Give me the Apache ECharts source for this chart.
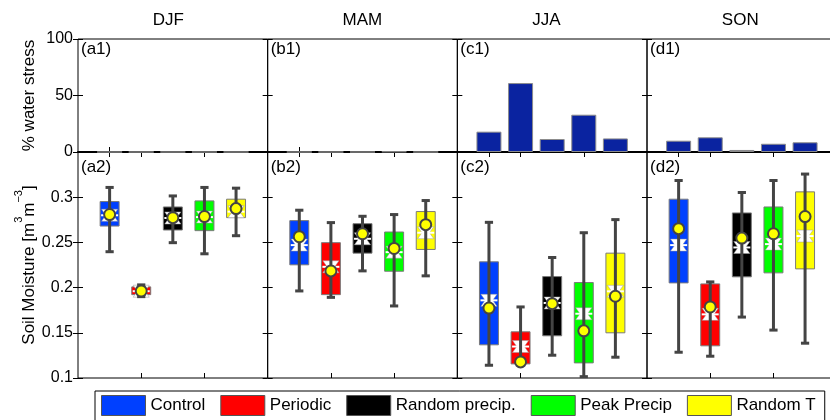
<!DOCTYPE html>
<html>
<head>
<meta charset="utf-8">
<script src="https://cdn.jsdelivr.net/npm/echarts@6/dist/echarts.min.js"></script>
<style>html,body{margin:0;padding:0;background:#fff;overflow:hidden}#chart{width:830px;height:420px}</style>
</head>
<body>
<div id="chart"></div>
<script>
// ---------- data ----------
const seasons = ['DJF', 'MAM', 'JJA', 'SON'];
const panelTop = ['(a1)', '(b1)', '(c1)', '(d1)'];
const panelBottom = ['(a2)', '(b2)', '(c2)', '(d2)'];
const scenarios = ['Control', 'Periodic', 'Random precip.', 'Peak Precip', 'Random T'];
const scenarioColors = ['#0040ff', '#ff0000', '#000000', '#00ff00', '#ffff00'];
const xPos = [1, 2, 3, 4, 5];

// % water stress (top row)
const stressDJF = [0, 0, 0, 0, 0];
const stressMAM = [0, 0, 0, 0.4, 0];
const stressJJA = [18, 61, 11.5, 33, 12];
const stressSON = [10, 13, 1.8, 7.3, 8.6];

// soil moisture box stats: [whiskerLow, q1, median, q3, whiskerHigh, mean]
const boxDJF = [
  [0.2397, 0.2681, 0.2800, 0.2952, 0.3108, 0.2808],
  [0.1900, 0.1922, 0.1960, 0.2008, 0.2030, 0.1963],
  [0.2497, 0.2637, 0.2770, 0.2892, 0.3014, 0.2774],
  [0.2374, 0.2630, 0.2780, 0.2959, 0.3108, 0.2786],
  [0.2574, 0.2774, 0.2840, 0.2978, 0.3100, 0.2874]
];
const boxMAM = [
  [0.1963, 0.2252, 0.2470, 0.2741, 0.2856, 0.2563],
  [0.1892, 0.1922, 0.2230, 0.2497, 0.2719, 0.2185],
  [0.2185, 0.2381, 0.2540, 0.2707, 0.2789, 0.2596],
  [0.1797, 0.2181, 0.2392, 0.2615, 0.2808, 0.2433],
  [0.2130, 0.2422, 0.2607, 0.2841, 0.2963, 0.2696]
];
const boxJJA = [
  [0.1141, 0.1367, 0.1859, 0.2285, 0.2722, 0.1774],
  [0.1156, 0.1156, 0.1348, 0.1511, 0.1786, 0.1178],
  [0.1252, 0.1467, 0.1830, 0.2122, 0.2333, 0.1822],
  [0.1015, 0.1167, 0.1711, 0.2056, 0.2607, 0.1522],
  [0.1230, 0.1500, 0.1959, 0.2381, 0.2752, 0.1904]
];
const boxSON = [
  [0.1285, 0.2052, 0.2470, 0.2978, 0.3185, 0.2652],
  [0.1241, 0.1356, 0.1704, 0.2041, 0.2063, 0.1786],
  [0.1674, 0.2119, 0.2444, 0.2826, 0.3052, 0.2548],
  [0.1530, 0.2163, 0.2481, 0.2892, 0.3185, 0.2596],
  [0.1385, 0.2207, 0.2570, 0.3059, 0.3256, 0.2786]
];

const stressTicks = [0, 50, 100];
const smTicks = [0.1, 0.15, 0.2, 0.25, 0.3];

const stressData = [stressDJF, stressMAM, stressJJA, stressSON];
const boxData = [boxDJF, boxMAM, boxJJA, boxSON];

// ---------- layout ----------
const FONT = 'Liberation Sans, Arial, Helvetica, sans-serif';
const panelLeft0 = 78, panelW = 189.67;
const topY = 39, topH = 113, botY = 152, botH = 226;

const grids = [], xAxes = [], yAxes = [], series = [], graphics = [];

function addGrid(left, top, height) {
  grids.push({ left: left, top: top, width: panelW, height: height, show: true,
    borderColor: '#000', borderWidth: 1, backgroundColor: 'transparent',
    containLabel: false, outerBoundsMode: 'none' });
  return grids.length - 1;
}

for (let i = 0; i < 4; i++) {
  const left = panelLeft0 + i * panelW;
  // top panel
  const gt = addGrid(left, topY, topH);
  xAxes.push({ gridIndex: gt, type: 'value', position: 'bottom', min: 0, max: 6,
    axisLine: { show: true, lineStyle: { color: '#000', width: 2 } },
    axisTick: { show: true, inside: true, length: 5, customValues: [1], lineStyle: { color: '#000' } },
    axisLabel: { show: false }, splitLine: { show: false } });
  xAxes.push({ gridIndex: gt, type: 'value', position: 'top', min: 0, max: 6,
    axisLine: { show: false },
    axisTick: { show: true, inside: true, length: 5, customValues: [1], lineStyle: { color: '#000' } },
    axisLabel: { show: false }, splitLine: { show: false } });
  yAxes.push({ gridIndex: gt, type: 'value', position: 'left', min: 0, max: 100, interval: 50,
    axisLine: { show: false },
    axisTick: { show: true, inside: true, length: 5, lineStyle: { color: '#000' } },
    axisLabel: { show: i === 0, fontSize: 16, color: '#000', fontFamily: FONT, margin: 5,
      customValues: stressTicks },
    splitLine: { show: false },
    name: i === 0 ? '% water stress' : '', nameLocation: 'middle', nameGap: 40, nameRotate: 90,
    nameTextStyle: { fontSize: 17, color: '#000', fontFamily: FONT } });
  yAxes.push({ gridIndex: gt, type: 'value', position: 'right', min: 0, max: 100, interval: 50,
    axisLine: { show: false },
    axisTick: { show: true, inside: true, length: 5, lineStyle: { color: '#000' } },
    axisLabel: { show: false }, splitLine: { show: false } });
  series.push({ type: 'bar', xAxisIndex: 2 * gt, yAxisIndex: 2 * gt, barWidth: 25,
    itemStyle: { color: '#0a23a0', borderColor: '#8c8c8c', borderWidth: 1 },
    data: xPos.map((x, k) => [x, stressData[i][k]]), silent: true, z: 1 });

  // bottom panel
  const gb = addGrid(left, botY, botH);
  xAxes.push({ gridIndex: gb, type: 'value', position: 'bottom', min: 0, max: 6,
    axisLine: { show: false },
    axisTick: { show: true, inside: true, length: 5, customValues: [2, 4], lineStyle: { color: '#000' } },
    axisLabel: { show: false }, splitLine: { show: false } });
  xAxes.push({ gridIndex: gb, type: 'value', position: 'top', min: 0, max: 6,
    axisLine: { show: false },
    axisTick: { show: true, inside: true, length: 5, customValues: [2, 4], lineStyle: { color: '#000' } },
    axisLabel: { show: false }, splitLine: { show: false } });
  yAxes.push({ gridIndex: gb, type: 'value', position: 'left', min: 0.1, max: 0.35, interval: 0.05,
    axisLine: { show: false },
    axisTick: { show: true, inside: true, length: 5, lineStyle: { color: '#000' } },
    axisLabel: { show: i === 0, fontSize: 16, color: '#000', fontFamily: FONT, margin: 5,
      customValues: smTicks, formatter: v => String(+(+v).toFixed(2)) },
    splitLine: { show: false },
    name: i === 0 ? '{n|Soil Moisture [m}{s|3}{n|m}{s|−3}{n|]}' : '',
    nameLocation: 'middle', nameGap: 40, nameRotate: 90,
    nameTextStyle: { fontSize: 17, color: '#000', fontFamily: FONT,
      rich: { n: { fontSize: 17, fontFamily: FONT, color: '#000', lineHeight: 24, verticalAlign: 'bottom' },
              s: { fontSize: 11, fontFamily: FONT, color: '#000', lineHeight: 24, verticalAlign: 'top' } } } });
  yAxes.push({ gridIndex: gb, type: 'value', position: 'right', min: 0.1, max: 0.35, interval: 0.05,
    axisLine: { show: false },
    axisTick: { show: true, inside: true, length: 5, lineStyle: { color: '#000' } },
    axisLabel: { show: false }, splitLine: { show: false } });

  for (let k = 0; k < scenarios.length; k++) {
    series.push({
      type: 'custom', name: scenarios[k], xAxisIndex: 2 * gb, yAxisIndex: 2 * gb,
      itemStyle: { color: scenarioColors[k] }, silent: true, clip: false,
      encode: { x: 0, y: [1, 2, 3, 4, 5, 6] },
      data: [[xPos[k]].concat(boxData[i][k])],
      renderItem: renderBox
    });
  }

  // titles and panel labels
  graphics.push({ type: 'text', left: left + panelW / 2 - 20, top: 12,
    style: { text: seasons[i], fontSize: 17, fill: '#000', fontFamily: FONT, width: 40, align: 'center' } });
  graphics.push({ type: 'text', x: left + 3, y: topY + 2,
    style: { text: panelTop[i], fontSize: 17, fill: '#000', fontFamily: FONT, verticalAlign: 'top' } });
  graphics.push({ type: 'text', x: left + 3, y: botY + 7,
    style: { text: panelBottom[i], fontSize: 17, fill: '#000', fontFamily: FONT, verticalAlign: 'top' } });
}

function renderBox(params, api) {
  const x = api.value(0);
  const lo = api.coord([x, api.value(1)]);
  const q1 = api.coord([x, api.value(2)]);
  const md = api.coord([x, api.value(3)]);
  const q3 = api.coord([x, api.value(4)]);
  const hi = api.coord([x, api.value(5)]);
  const mn = api.coord([x, api.value(6)]);
  const unit = api.size([1, 0])[0];
  const cx = md[0];
  const hw = unit * 0.30;
  const cap = unit * 0.13;
  const color = api.visual('color');
  const nh = 6, nw = hw * 0.85, ni = hw * 0.4;
  const gray = '#444444';
  return {
    type: 'group',
    children: [
      { type: 'rect', shape: { x: cx - hw, y: q3[1], width: 2 * hw, height: q1[1] - q3[1] },
        style: { fill: color, stroke: '#7a7a7a', lineWidth: 1 } },
      { type: 'polygon', shape: { points: [
          [cx - nw, md[1] - nh], [cx + nw, md[1] - nh], [cx + ni, md[1]],
          [cx + nw, md[1] + nh], [cx - nw, md[1] + nh], [cx - ni, md[1]] ] },
        style: { fill: '#ffffff', stroke: '#9a9a9a', lineWidth: 0.5 } },
      { type: 'line', shape: { x1: cx - hw + 1, y1: md[1], x2: cx + hw - 1, y2: md[1] },
        style: { stroke: '#ffffff', lineWidth: 2 } },
      { type: 'line', shape: { x1: cx, y1: hi[1], x2: cx, y2: lo[1] },
        style: { stroke: gray, lineWidth: 3 } },
      { type: 'line', shape: { x1: cx - cap, y1: hi[1], x2: cx + cap, y2: hi[1] },
        style: { stroke: gray, lineWidth: 3 } },
      { type: 'line', shape: { x1: cx - cap, y1: lo[1], x2: cx + cap, y2: lo[1] },
        style: { stroke: gray, lineWidth: 3 } },
      { type: 'circle', shape: { cx: cx, cy: mn[1], r: 5.5 },
        style: { fill: '#ffff00', stroke: gray, lineWidth: 2 } }
    ]
  };
}

const chart = echarts.init(document.getElementById('chart'), null, { renderer: 'canvas' });
chart.setOption({
  animation: false,
  grid: grids,
  xAxis: xAxes,
  yAxis: yAxes,
  series: series,
  graphic: graphics,
  legend: {
    left: 95, top: 391, orient: 'horizontal',
    selectedMode: false,
    borderColor: '#000', borderWidth: 1, padding: [4, 9, 5, 6],
    itemWidth: 44, itemHeight: 20, itemGap: 15,
    textStyle: { fontSize: 17, color: '#000', fontFamily: FONT, padding: [0, 0, 0, 0] },
    data: scenarios.map((s, k) => ({ name: s, icon: 'rect',
      itemStyle: { color: scenarioColors[k], borderColor: '#555', borderWidth: 1 } }))
  }
});
</script>
</body>
</html>
